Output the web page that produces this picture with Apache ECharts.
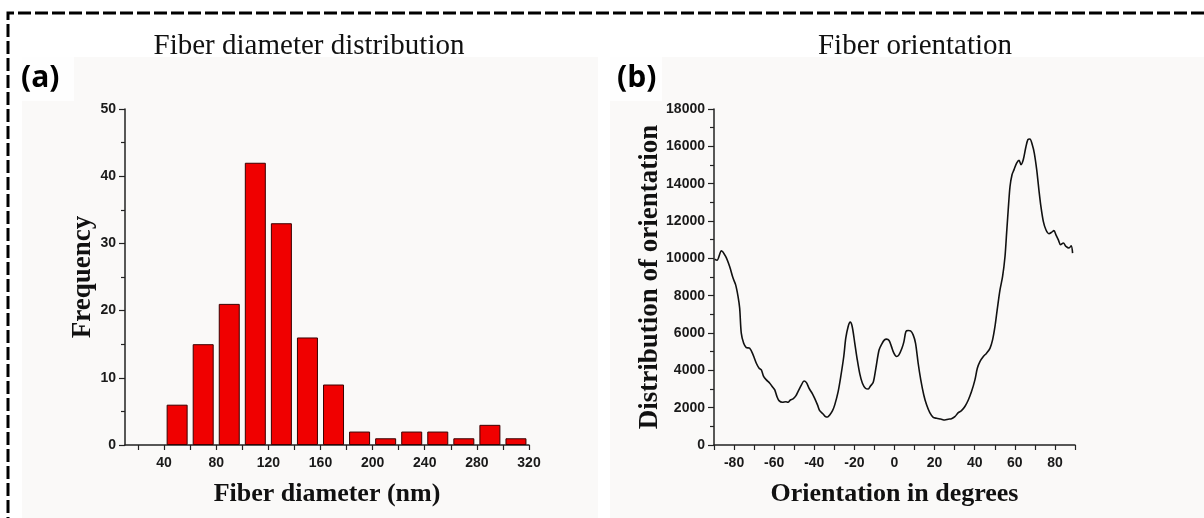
<!DOCTYPE html>
<html>
<head>
<meta charset="utf-8">
<title>Fiber diameter distribution / Fiber orientation</title>
<script src="https://cdn.jsdelivr.net/npm/echarts@6/dist/echarts.min.js"></script>
<style>
  html, body { margin: 0; padding: 0; background: #fff; }
  #chart { width: 1204px; height: 518px; }
</style>
</head>
<body>
<div id="chart"></div>
<script>
// (a) histogram: bin centres (nm) and counts
var binCenters = [50, 70, 90, 110, 130, 150, 170, 190, 210, 230, 250, 270, 290, 310];
var frequencies = [6, 15, 21, 42, 33, 16, 9, 2, 1, 2, 2, 1, 3, 1];
var diamLabels = [40, 80, 120, 160, 200, 240, 280, 320];
var diamTicks = [20, 40, 60, 80, 100, 120, 140, 160, 180, 200, 220, 240, 260, 280, 300, 320];

// (b) orientation distribution
var orientDeg = [-89.7, -88.5, -86.3, -84.2, -82.2, -80.5, -79.2, -78.0, -77.2, -76.4,
  -75.2, -73.9, -72.2, -70.5, -68.9, -67.5, -66.4, -65.2, -63.9, -62.2,
  -60.6, -59.7, -58.6, -57.6, -55.9, -54.2, -53.1, -51.9, -50.6, -49.2,
  -48.1, -46.4, -45.1, -43.9, -42.6, -40.9, -39.8, -38.4, -37.3, -35.6,
  -34.4, -33.4, -32.3, -30.9, -29.8, -28.1, -26.8, -25.3, -24.3, -23.1,
  -22.1, -21.1, -19.8, -18.6, -17.3, -16.0, -14.5, -13.1, -12.0, -10.6,
  -9.3, -7.7, -6.3, -5.0, -4.0, -2.7, -1.5, -0.3, 1.0, 2.2,
  3.7, 4.7, 5.7, 6.8, 8.0, 9.3, 10.5, 11.8, 13.1, 14.6,
  16.0, 17.6, 19.3, 21.0, 23.0, 25.1, 26.8, 28.4, 30.1, 31.8,
  33.4, 35.1, 36.8, 38.4, 40.1, 41.3, 42.6, 44.3, 45.9, 47.6,
  48.9, 50.1, 51.2, 52.6, 53.9, 55.1, 55.9, 56.7, 57.6, 58.6,
  59.6, 60.9, 62.1, 63.1, 64.2, 65.4, 66.5, 67.5, 68.7, 69.7,
  70.9, 72.0, 73.0, 74.2, 75.5, 77.0, 78.3, 79.5, 80.5, 81.7,
  82.8, 84.2, 85.5, 87.0, 88.1, 88.8];
var orientValues = [9950, 9900, 10400, 10100, 9560, 8940, 8580, 7950, 7330, 5990,
  5450, 5220, 5180, 4830, 4380, 4110, 4020, 3660, 3490, 3310,
  3080, 2950, 2590, 2380, 2290, 2320, 2290, 2410, 2470, 2630,
  2860, 3220, 3430, 3340, 3040, 2740, 2500, 2150, 1840, 1660,
  1520, 1500, 1610, 1840, 2150, 2860, 3660, 4740, 5720, 6350,
  6580, 6350, 5450, 4590, 3810, 3310, 3040, 3000, 3160, 3360,
  4110, 5090, 5420, 5630, 5670, 5600, 5270, 4920, 4740, 4830,
  5180, 5540, 6080, 6130, 6110, 5900, 5450, 4380, 3490, 2680,
  2150, 1730, 1480, 1430, 1390, 1340, 1380, 1410, 1520, 1730,
  1840, 2060, 2410, 2860, 3490, 4110, 4470, 4740, 4920, 5180,
  5630, 6350, 7240, 8310, 9030, 10100, 11350, 12600, 13850, 14480,
  14750, 15100, 15250, 15020, 15280, 15910, 16360, 16390, 16090, 15640,
  14750, 13670, 12780, 11980, 11530, 11320, 11390, 11490, 11260, 10990,
  10730, 10820, 10640, 10550, 10670, 10280];
var orientLabels = [-80, -60, -40, -20, 0, 20, 40, 60, 80];
var orientTicks = [-90, -80, -70, -60, -50, -40, -30, -20, -10, 0, 10, 20, 30, 40, 50, 60, 70, 80, 90];

var tickFont = { fontFamily: '"Liberation Sans", Arial, sans-serif', fontWeight: 'bold', fontSize: 14, color: '#1a1a1a' };
var nameFont = { fontFamily: 'Liberation Serif, Times New Roman, serif', fontWeight: 'bold', color: '#111' };
var axisLine = { show: true, onZero: false, lineStyle: { color: '#222', width: 1.5 } };
var tickStyle = { lineStyle: { color: '#222', width: 1.2 } };

function pairs(xs, ys) {
  return xs.map(function (x, i) { return [x, ys[i]]; });
}
function plain(v) { return String(v); }

var myChart = echarts.init(document.getElementById('chart'), null, { renderer: 'canvas' });

var option = {
  backgroundColor: '#ffffff',
  animation: false,
  graphic: [
    // light panels behind the two plots
    { type: 'rect', silent: true, z: -10, shape: { x: 22, y: 57, width: 576, height: 470 }, style: { fill: '#faf9f8' } },
    { type: 'rect', silent: true, z: -10, shape: { x: 610, y: 57, width: 600, height: 470 }, style: { fill: '#faf9f8' } },
    { type: 'rect', silent: true, z: -9, shape: { x: 22, y: 57, width: 52, height: 44 }, style: { fill: '#fefefe' } },
    { type: 'rect', silent: true, z: -9, shape: { x: 610, y: 57, width: 52, height: 44 }, style: { fill: '#fefefe' } },
    // dashed frame
    { type: 'polyline', silent: true, shape: { points: [[8, 530], [8, 13], [1215, 13]] },
      style: { stroke: '#000', lineWidth: 3, lineDash: [13, 4], fill: null } },
    // panel letters
    { type: 'text', left: 21, top: 63, style: { text: '(a)', font: 'bold 30px "Open Sans", "Liberation Sans", sans-serif', fill: '#000' } },
    { type: 'text', left: 617, top: 63, style: { text: '(b)', font: 'bold 30px "Open Sans", "Liberation Sans", sans-serif', fill: '#000' } }
  ],
  title: [
    { text: 'Fiber diameter distribution', left: 304, top: 27, textAlign: 'center',
      textStyle: { fontFamily: 'Liberation Serif, Times New Roman, serif', fontWeight: 'normal', fontSize: 29, color: '#111' } },
    { text: 'Fiber orientation', left: 910, top: 27, textAlign: 'center',
      textStyle: { fontFamily: 'Liberation Serif, Times New Roman, serif', fontWeight: 'normal', fontSize: 29, color: '#111' } }
  ],
  grid: [
    { left: 125, top: 109, right: 675, bottom: 73 },
    { left: 714, top: 109, right: 129, bottom: 73 }
  ],
  xAxis: [
    {
      gridIndex: 0, type: 'value', min: 10, max: 320,
      name: 'Fiber diameter (nm)', nameLocation: 'middle', nameGap: 36,
      nameTextStyle: Object.assign({ fontSize: 26 }, nameFont),
      axisLine: axisLine, splitLine: { show: false },
      axisTick: Object.assign({ show: true, length: 5, customValues: diamTicks }, tickStyle),
      axisLabel: Object.assign({ customValues: diamLabels, margin: 11, formatter: plain }, tickFont)
    },
    {
      gridIndex: 1, type: 'value', min: -90, max: 90,
      name: 'Orientation in degrees', nameLocation: 'middle', nameGap: 36,
      nameTextStyle: Object.assign({ fontSize: 26 }, nameFont),
      axisLine: axisLine, splitLine: { show: false },
      axisTick: Object.assign({ show: true, length: 5, customValues: orientTicks }, tickStyle),
      axisLabel: Object.assign({ customValues: orientLabels, margin: 11, formatter: plain }, tickFont)
    }
  ],
  yAxis: [
    {
      gridIndex: 0, type: 'value', min: 0, max: 50, interval: 10,
      name: 'Frequency', nameLocation: 'middle', nameGap: 28, nameMoveOverlap: false,
      nameTextStyle: Object.assign({ fontSize: 27 }, nameFont),
      axisLine: axisLine, splitLine: { show: false },
      axisTick: Object.assign({ show: true, length: 6 }, tickStyle),
      minorTick: { show: true, splitNumber: 2, length: 4, lineStyle: { color: '#222', width: 1.2 } },
      axisLabel: Object.assign({ margin: 9, formatter: plain }, tickFont)
    },
    {
      gridIndex: 1, type: 'value', min: 0, max: 18000, interval: 2000,
      name: 'Distribution of orientation', nameLocation: 'middle', nameGap: 50, nameMoveOverlap: false,
      nameTextStyle: Object.assign({ fontSize: 27 }, nameFont),
      axisLine: axisLine, splitLine: { show: false },
      axisTick: Object.assign({ show: true, length: 6 }, tickStyle),
      minorTick: { show: true, splitNumber: 2, length: 4, lineStyle: { color: '#222', width: 1.2 } },
      axisLabel: Object.assign({ margin: 9, formatter: plain }, tickFont)
    }
  ],
  series: [
    {
      type: 'bar', xAxisIndex: 0, yAxisIndex: 0,
      barWidth: 21,
      data: pairs(binCenters, frequencies),
      itemStyle: { color: '#f00000', borderColor: '#3a0000', borderWidth: 1 }
    },
    {
      type: 'line', xAxisIndex: 1, yAxisIndex: 1,
      showSymbol: false, smooth: 0.3,
      data: pairs(orientDeg, orientValues),
      lineStyle: { color: '#111', width: 1.6 }
    }
  ]
};

myChart.setOption(option);
</script>
</body>
</html>
